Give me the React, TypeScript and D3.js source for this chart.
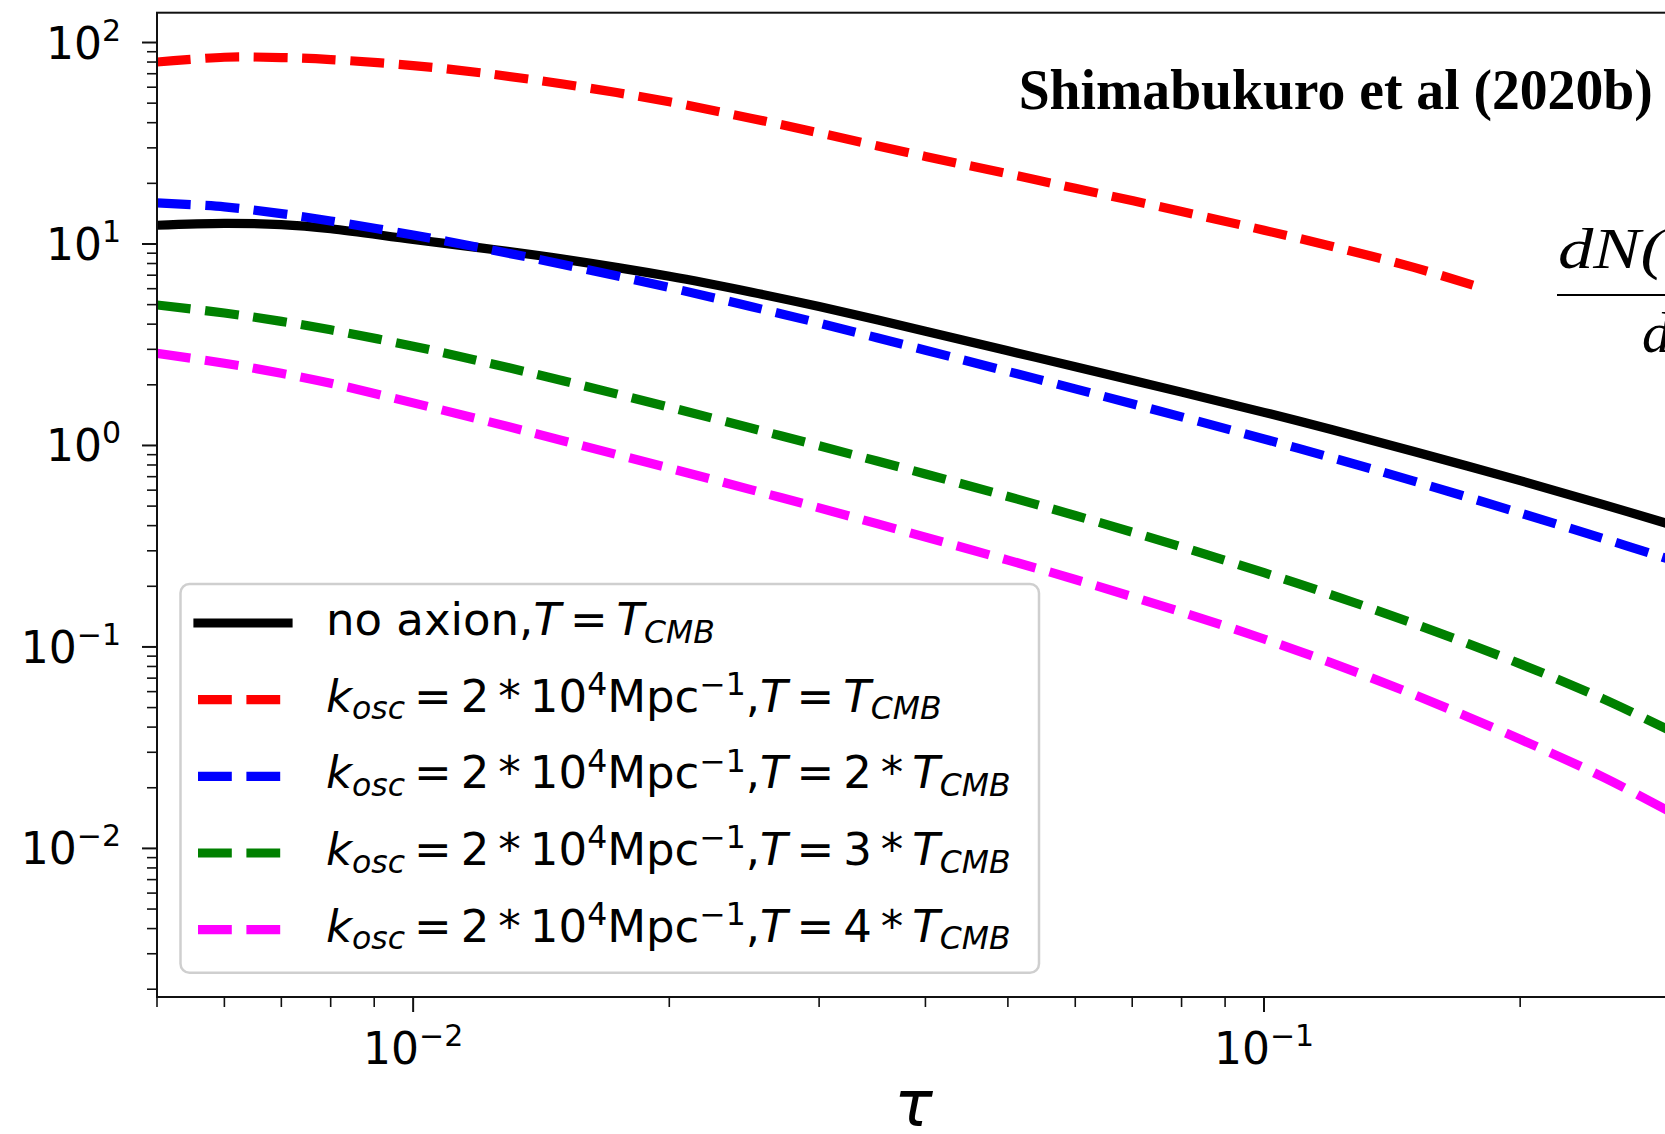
import React from 'react';
import * as d3 from 'd3';

// ---- data ----
const tau = [0.005, 0.006, 0.007, 0.008, 0.01, 0.012, 0.015, 0.02, 0.025, 0.03, 0.04, 0.05, 0.06, 0.08, 0.1, 0.12, 0.15, 0.2, 0.25, 0.3];
const tauRed = [0.005, 0.006, 0.007, 0.008, 0.01, 0.012, 0.015, 0.02, 0.025, 0.03, 0.04, 0.05, 0.06, 0.08, 0.1, 0.12, 0.15, 0.176];
const noAxion = [12.39, 12.66, 12.47, 11.9, 10.52, 9.57, 8.41, 6.91, 5.76, 4.89, 3.69, 2.95, 2.46, 1.84, 1.46, 1.2, 0.934, 0.669, 0.51, 0.406];
const kT1 = [80.0, 84.5, 84.2, 82.3, 76.8, 70.8, 62.2, 50.8, 42.0, 35.6, 27.2, 22.3, 18.9, 14.5, 11.7, 9.75, 7.65, 6.25];
const kT2 = [16.0, 15.29, 14.15, 13.01, 11.08, 9.58, 7.92, 6.08, 4.88, 4.05, 2.97, 2.33, 1.91, 1.387, 1.077, 0.871, 0.665, 0.462, 0.346, 0.2716];
const kT3 = [4.98, 4.545, 4.13, 3.75, 3.11, 2.62, 2.097, 1.549, 1.217, 0.996, 0.722, 0.558, 0.449, 0.3137, 0.2336, 0.1815, 0.1306, 0.0824, 0.0554, 0.0385];
const kT4 = [2.864, 2.559, 2.282, 2.035, 1.627, 1.344, 1.056, 0.7717, 0.602, 0.4902, 0.351, 0.2698, 0.2161, 0.149, 0.1095, 0.0833, 0.058, 0.0348, 0.02265, 0.0152];

const yMajor = [1e-2, 1e-1, 1, 10, 100];
const xMajor = [1e-2, 1e-1];
const xDomain = [0.005, 0.3];
const yDomain = [0.00183, 140.6];

const tempFactors = ['', '2', '3', '4'];
const seriesColors = ['#000000', '#ff0000', '#0000ff', '#008000', '#ff00ff'];

type Part = [string, string];

const TS = '\u2009'; // thin space
const rowNoAxion: Part[] = [['no axion,', 'r'], ['T', 'i'], [TS + '=' + TS, 'r'], ['T', 'i'], ['CMB', 'sb']];
const rowK = (f: string): Part[] => [
  ['k', 'i'], ['osc', 'sb'], [TS + '=' + TS + '2' + TS + '*' + TS + '10', 'r'], ['4', 'sp'], ['Mpc', 'r'], ['\u22121', 'sp'],
  [',', 'r'], ['T', 'i'], [TS + '=' + TS, 'r'], ...(f ? ([[f + TS + '*' + TS, 'r']] as Part[]) : []), ['T', 'i'], ['CMB', 'sb'],
];
const legendRows: Part[][] = [rowNoAxion, ...tempFactors.map(rowK)];

function MathLine({ x, y, parts, size }: { x: number; y: number; parts: Part[]; size: number }) {
  let cur = 0;
  const small = size * 0.7;
  return (
    <text x={x} y={y} fontSize={size} fontFamily="DejaVu Sans" fill="#000">
      {parts.map(([t, k], i) => {
        const target = k === 'sb' ? size * 0.17 : k === 'sp' ? -size * 0.37 : 0;
        const dy = target - cur;
        cur = target;
        return (
          <tspan key={i} dy={dy} fontSize={k === 'sb' || k === 'sp' ? small : size}
            fontStyle={k === 'i' || k === 'sb' ? 'italic' : 'normal'}>{t}</tspan>
        );
      })}
    </text>
  );
}

const expLabel = (v: number) => {
  const e = Math.round(Math.log10(v));
  return e < 0 ? '\u2212' + Math.abs(e) : String(e);
};

export default function App() {
  const W = 1665, H = 1134;
  const left = 157, right = 1670, top = 12.7, bottom = 997;
  const x = d3.scaleLog().domain(xDomain).range([left, right]);
  const y = d3.scaleLog().domain(yDomain).range([bottom, top]);

  const yMinor: number[] = [];
  for (let e = -3; e <= 2; e++) for (let m = 2; m <= 9; m++) {
    const v = m * Math.pow(10, e);
    if (v >= yDomain[0] && v <= yDomain[1]) yMinor.push(v);
  }
  const xMinor: number[] = [];
  for (let e = -3; e <= -1; e++) for (let m = 2; m <= 9; m++) {
    const v = m * Math.pow(10, e);
    if (v >= xDomain[0] && v <= xDomain[1]) xMinor.push(v);
  }

  const line = d3.line<[number, number]>().x(d => x(d[0])).y(d => y(d[1])).curve(d3.curveCatmullRom.alpha(0.5));
  const dash = '33.8 14.6';
  const series = [
    { t: tau, v: noAxion, dash: null },
    { t: tauRed, v: kT1, dash },
    { t: tau, v: kT2, dash },
    { t: tau, v: kT3, dash },
    { t: tau, v: kT4, dash },
  ];
  const lw = 9.2;

  const legX = 180.5, legY = 584, legW = 858.5, legH = 388.7;
  const rowBase = [635, 711.7, 788.3, 865, 941.7];

  return (
    <svg width={W} height={H} style={{ position: 'absolute', left: 0, top: 0, background: '#fff' }}>
      <rect x={0} y={0} width={W} height={H} fill="#fff" />
      <defs>
        <clipPath id="plotclip">
          <rect x={left} y={top} width={right - left} height={bottom - top} />
        </clipPath>
      </defs>

      <g clipPath="url(#plotclip)">
        {series.map((s, i) => (
          <path key={i} d={line(s.t.map((t, j) => [t, s.v[j]] as [number, number])) || ''}
            fill="none" stroke={seriesColors[i]} strokeWidth={lw}
            strokeDasharray={s.dash || undefined} strokeLinecap={s.dash ? 'butt' : 'square'} strokeLinejoin="round" />
        ))}
      </g>

      {/* spines */}
      <rect x={left} y={top} width={right - left} height={bottom - top} fill="none" stroke="#111" strokeWidth={2} />

      {/* y ticks */}
      {yMajor.map(v => (
        <g key={'ym' + v}>
          <line x1={left - 15} x2={left} y1={y(v)} y2={y(v)} stroke="#111" strokeWidth={2} />
          <text x={121} y={y(v) + 16} textAnchor="end" fontSize={44} fontFamily="DejaVu Sans" fill="#000">
            10<tspan fontSize={30} dy={-18}>{expLabel(v)}</tspan>
          </text>
        </g>
      ))}
      {yMinor.map(v => (
        <line key={'yn' + v} x1={left - 10} x2={left} y1={y(v)} y2={y(v)} stroke="#111" strokeWidth={1.6} />
      ))}

      {/* x ticks */}
      {xMajor.map(v => (
        <g key={'xm' + v}>
          <line x1={x(v)} x2={x(v)} y1={bottom} y2={bottom + 15} stroke="#111" strokeWidth={2} />
          <text x={x(v)} y={1064} textAnchor="middle" fontSize={44} fontFamily="DejaVu Sans" fill="#000">
            10<tspan fontSize={30} dy={-18}>{expLabel(v)}</tspan>
          </text>
        </g>
      ))}
      {xMinor.map(v => (
        <line key={'xn' + v} x1={x(v)} x2={x(v)} y1={bottom} y2={bottom + 10} stroke="#111" strokeWidth={1.6} />
      ))}

      <text x={(left + right) / 2} y={1126} textAnchor="middle" fontSize={64} fontStyle="italic" fontFamily="DejaVu Sans" fill="#000">τ</text>

      {/* legend */}
      <rect x={legX} y={legY} width={legW} height={legH} rx={9} ry={9} fill="#fff" fillOpacity={0.85} stroke="#cfcfcf" strokeWidth={2.5} />
      {legendRows.map((parts, i) => (
        <g key={'leg' + i}>
          <line x1={198} x2={288} y1={rowBase[i] - 12} y2={rowBase[i] - 12} stroke={seriesColors[i]} strokeWidth={lw}
            strokeDasharray={i === 0 ? undefined : dash} strokeLinecap={i === 0 ? 'square' : 'butt'} />
          <MathLine x={326} y={rowBase[i]} parts={parts} size={45} />
        </g>
      ))}

      {/* annotation */}
      <text x={1018.7} y={109} fontSize={58} fontWeight="bold" fontFamily="Liberation Serif" fill="#000"
        textLength={634} lengthAdjust="spacingAndGlyphs">Shimabukuro et al (2020b)</text>

      {/* partial formula at right edge (cut off in the reference) */}
      <text x={1558} y={268} fontSize={58} fontStyle="italic" fontFamily="Liberation Serif" fill="#000"
        textLength={106} lengthAdjust="spacingAndGlyphs">dN(</text>
      <line x1={1557} x2={1700} y1={295} y2={295} stroke="#000" strokeWidth={2} />
      <text x={1642} y={352} fontSize={58} fontStyle="italic" fontFamily="Liberation Serif" fill="#000">d</text>
    </svg>
  );
}
